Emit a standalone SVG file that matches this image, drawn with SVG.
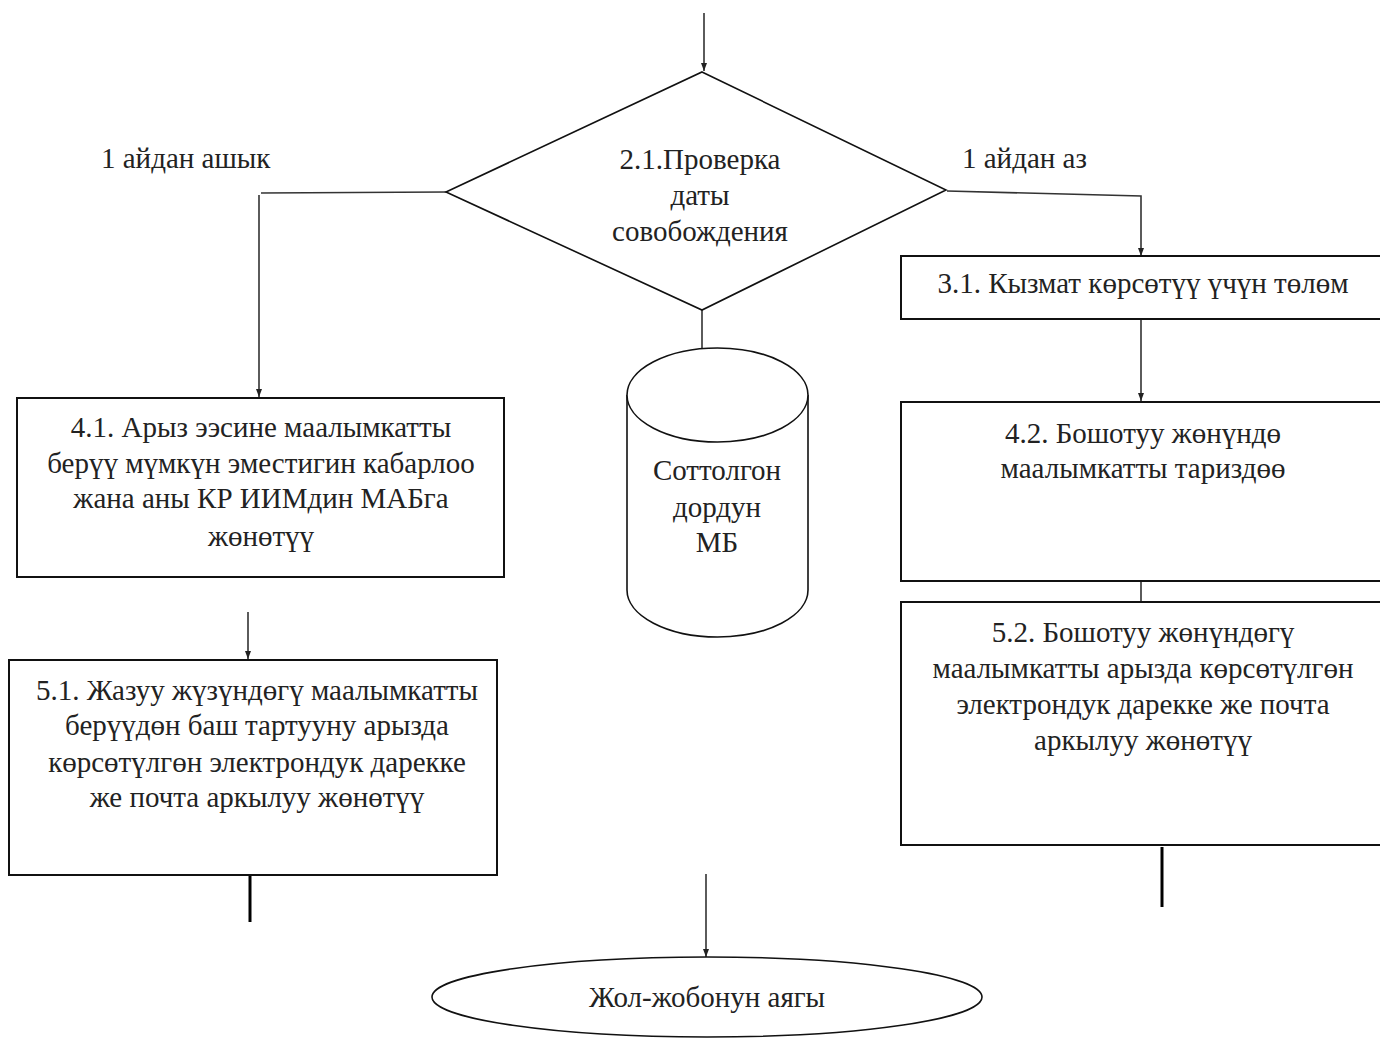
<svg xmlns="http://www.w3.org/2000/svg" width="1380" height="1041" viewBox="0 0 1380 1041">
<style>
.box{fill:#fff;stroke:#111;stroke-width:2}
.shape{fill:#fff;stroke:#111;stroke-width:1.6}
.ln{fill:none;stroke:#333;stroke-width:1.6}
.thick{fill:none;stroke:#000;stroke-width:3}
text{font-family:"Liberation Serif","Times New Roman",serif;font-size:29px;fill:#222;text-anchor:middle}
.lbl{text-anchor:start}
</style>
<defs>
<marker id="ah" viewBox="0 0 8 8" refX="8" refY="4" markerWidth="8" markerHeight="8" markerUnits="userSpaceOnUse" orient="auto">
<path d="M0,1 L8,4 L0,7 Z" fill="#222"/>
</marker>
</defs>
<rect width="1380" height="1041" fill="#fff"/>

<g id="connectors">
<line class="ln" x1="704" y1="13" x2="704" y2="71" marker-end="url(#ah)"/>
<polyline class="ln" points="446,192 261,193"/>
<line class="ln" x1="259" y1="195" x2="259" y2="397" marker-end="url(#ah)"/>
<polyline class="ln" points="947,191 1141,196 1141,256" marker-end="url(#ah)"/>
<line class="ln" x1="1141" y1="320" x2="1141" y2="401" marker-end="url(#ah)"/>
<line class="ln" x1="1141" y1="581" x2="1141" y2="602"/>
<line class="ln" x1="702" y1="310" x2="702" y2="348"/>
<line class="ln" x1="248" y1="612" x2="248" y2="659" marker-end="url(#ah)"/>
<line class="thick" x1="250" y1="858" x2="250" y2="922"/>
<line class="thick" x1="1162" y1="847" x2="1162" y2="907"/>
<line class="ln" x1="706" y1="874" x2="706" y2="957" marker-end="url(#ah)"/>
</g>

<g id="label-left"><text class="lbl" x="101" y="168">1 айдан ашык</text></g>
<g id="label-right"><text class="lbl" x="962" y="168">1 айдан аз</text></g>

<g id="node-2-1">
<polygon class="shape" points="702,72 946,190 702,310 446,192"/>
<text x="700" y="169">2.1.Проверка</text>
<text x="700" y="205">даты</text>
<text x="700" y="241">совобождения</text>
</g>

<g id="node-db">
<path class="shape" d="M627,395 L627,590 A90.5,47 0 0 0 808,590 L808,395 A90.5,47 0 0 0 627,395 Z"/>
<path class="shape" d="M627,395 A90.5,47 0 0 0 808,395"/>
<text x="717" y="480">Соттолгон</text>
<text x="717" y="517">дордун</text>
<text x="717" y="552">МБ</text>
</g>

<g id="node-3-1">
<rect class="box" x="901" y="256" width="484" height="63"/>
<text x="1143" y="293">3.1. Кызмат көрсөтүү үчүн төлөм</text>
</g>

<g id="node-4-1">
<rect class="box" x="17" y="398" width="487" height="179"/>
<text x="261" y="437">4.1. Арыз ээсине маалымкатты</text>
<text x="261" y="473">берүү мүмкүн эместигин кабарлоо</text>
<text x="261" y="508">жана аны КР ИИМдин МАБга</text>
<text x="261" y="546">жөнөтүү</text>
</g>

<g id="node-4-2">
<rect class="box" x="901" y="402" width="484" height="179"/>
<text x="1143" y="443">4.2. Бошотуу жөнүндө</text>
<text x="1143" y="478">маалымкатты тариздөө</text>
</g>

<g id="node-5-1">
<rect class="box" x="9" y="660" width="488" height="215"/>
<text x="257" y="700">5.1. Жазуу жүзүндөгү маалымкатты</text>
<text x="257" y="735">берүүдөн баш тартууну арызда</text>
<text x="257" y="772">көрсөтүлгөн электрондук дарекке</text>
<text x="257" y="807">же почта аркылуу жөнөтүү</text>
</g>

<g id="node-5-2">
<rect class="box" x="901" y="602" width="484" height="243"/>
<text x="1143" y="642">5.2. Бошотуу жөнүндөгү</text>
<text x="1143" y="678">маалымкатты арызда көрсөтүлгөн</text>
<text x="1143" y="714">электрондук дарекке же почта</text>
<text x="1143" y="750">аркылуу жөнөтүү</text>
</g>

<g id="node-end">
<ellipse class="shape" cx="707" cy="997" rx="275" ry="40"/>
<text x="707" y="1007">Жол-жобонун аягы</text>
</g>
</svg>
